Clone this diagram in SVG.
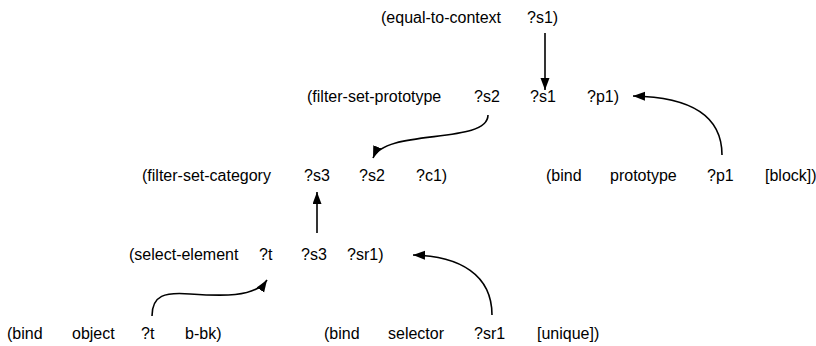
<svg xmlns="http://www.w3.org/2000/svg" width="816" height="346" viewBox="0 0 816 346">
<style>
text{font-family:"Liberation Sans",Arial,sans-serif;font-size:16px;fill:#000}
.c{fill:none;stroke:#000;stroke-width:1.6}
</style>
<defs>
<marker id="ah" markerUnits="userSpaceOnUse" markerWidth="13" markerHeight="10" refX="12" refY="4.5" orient="auto">
<path d="M0,0 L12,4.5 L0,9 z" fill="#000"/>
</marker>
</defs>
<rect width="816" height="346" fill="#fff"/>
<g id="n1"><text x="381" y="23">(equal-to-context</text><text x="527" y="23">?s1)</text></g>
<g id="n2"><text x="307" y="102">(filter-set-prototype</text><text x="474" y="102">?s2</text><text x="530" y="102">?s1</text><text x="587" y="102">?p1)</text></g>
<g id="n3"><text x="142" y="181">(filter-set-category</text><text x="304" y="181">?s3</text><text x="359" y="181">?s2</text><text x="416" y="181">?c1)</text></g>
<g id="n4"><text x="546" y="181">(bind</text><text x="610" y="181">prototype</text><text x="707" y="181">?p1</text><text x="765" y="181">[block])</text></g>
<g id="n5"><text x="129" y="260">(select-element</text><text x="259" y="260">?t</text><text x="301" y="260">?s3</text><text x="347" y="260">?sr1)</text></g>
<g id="n6"><text x="7" y="339">(bind</text><text x="72" y="339">object</text><text x="141" y="339">?t</text><text x="185" y="339">b-bk)</text></g>
<g id="n7"><text x="324" y="339">(bind</text><text x="388" y="339">selector</text><text x="474" y="339">?sr1</text><text x="537" y="339">[unique])</text></g>
<g id="connectors">
<path class="c" d="M545,33 L545,90" marker-end="url(#ah)"/>
<path class="c" d="M488,115 C488,145 385,128 373,158" marker-end="url(#ah)"/>
<path class="c" d="M317,233 L317,192" marker-end="url(#ah)"/>
<path class="c" d="M722,155 C722,115 690,97 633,96" marker-end="url(#ah)"/>
<path class="c" d="M492,315 C492,275 460,256 413,255" marker-end="url(#ah)"/>
<path class="c" d="M152,316 C152,295 165,292 190,294 C220,296 255,298 267,280" marker-end="url(#ah)"/>
</g>
</svg>
